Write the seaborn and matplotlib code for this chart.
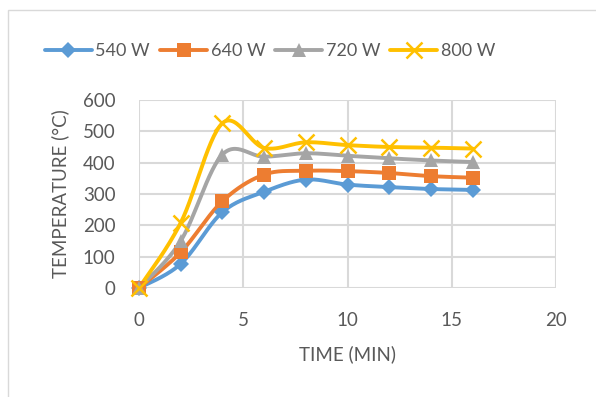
import numpy as np
import pandas as pd
import matplotlib
matplotlib.use("Agg")
import matplotlib.pyplot as plt
import seaborn as sns
from matplotlib.lines import Line2D
from matplotlib.patches import Rectangle

# Heating curves at different microwave powers
time_min = [0, 2, 4, 6, 8, 10, 12, 14, 16]
temp_540 = [0, 77, 242, 307, 346, 330, 322, 316, 313]
temp_640 = [0, 114, 277, 362, 374, 373, 367, 357, 352]
temp_720 = [0, 150, 426, 419, 430, 422, 414, 407, 402]
temp_800 = [0, 208, 526, 447, 465, 456, 450, 448, 445]
series_labels = ["540 W", "640 W", "720 W", "800 W"]

colors = ["#5B9BD5", "#ED7D31", "#A5A5A5", "#FFC000"]
markers = ["D", "s", "^", "x"]
msizes = [8.5, 10, 10.5, 11]


def smooth_curve(x, y, n=30, tension=1 / 6):
    """Cardinal-spline (Catmull-Rom style) curve through the points."""
    x = np.asarray(x, float)
    y = np.asarray(y, float)
    px = np.concatenate([[x[0]], x, [x[-1]]])
    py = np.concatenate([[y[0]], y, [y[-1]]])
    xs, ys = [], []
    t = np.linspace(0, 1, n)
    for i in range(1, len(px) - 2):
        p0 = np.array([px[i], py[i]])
        p3 = np.array([px[i + 1], py[i + 1]])
        c1 = p0 + tension * (np.array([px[i + 1], py[i + 1]]) - np.array([px[i - 1], py[i - 1]]))
        c2 = p3 - tension * (np.array([px[i + 2], py[i + 2]]) - np.array([px[i], py[i]]))
        b = ((1 - t) ** 3)[:, None] * p0 + (3 * (1 - t) ** 2 * t)[:, None] * c1 \
            + (3 * (1 - t) * t ** 2)[:, None] * c2 + (t ** 3)[:, None] * p3
        xs.append(b[:, 0])
        ys.append(b[:, 1])
    return np.concatenate(xs), np.concatenate(ys)


sns.set_theme(style="white")
plt.rcParams["font.family"] = ["Lato", "DejaVu Sans"]
text_color = "#595959"
fs = 13.5

fig = plt.figure(figsize=(5.96, 3.97), dpi=100)
ax = fig.add_axes([139 / 596, 1 - 288 / 397, (556 - 139) / 596, (288 - 100) / 397])

# chart frame
fig.patches.append(Rectangle((8 / 596, -0.1), 1.2, 1 - 10 / 397 + 0.1,
                             transform=fig.transFigure, fill=False,
                             edgecolor="#D9D9D9", linewidth=1.0))

all_series = [temp_540, temp_640, temp_720, temp_800]
for vals, lab, col, mk, ms in zip(all_series, series_labels, colors, markers, msizes):
    sx, sy = smooth_curve(time_min, vals)
    curve = pd.DataFrame({"t": sx, "v": sy})
    sns.lineplot(data=curve, x="t", y="v", ax=ax, color=col, linewidth=2.8,
                 sort=False, estimator=None, zorder=3)
    pts = pd.DataFrame({"t": time_min, "v": vals})
    if mk == "x":
        ax.plot(pts["t"], pts["v"], linestyle="none", marker="x", markersize=ms,
                markeredgewidth=1.8, color=col, zorder=4, clip_on=False)
    else:
        ax.plot(pts["t"], pts["v"], linestyle="none", marker=mk, markersize=ms,
                markeredgewidth=0, color=col, zorder=4, clip_on=False)

ax.set_xlim(0, 20)
ax.set_ylim(0, 600)
ax.set_xticks([0, 5, 10, 15, 20])
ax.set_yticks(range(0, 601, 100))
ax.grid(True, color="#D9D9D9", linewidth=1.5)
ax.set_axisbelow(True)
for s in ax.spines.values():
    s.set_visible(False)
ax.tick_params(axis="both", length=0, labelsize=fs, labelcolor=text_color)
ax.tick_params(axis="x", pad=17)
ax.tick_params(axis="y", pad=17)
ax.set_xlabel("TIME (MIN)", fontsize=fs, color=text_color, labelpad=12)
ax.set_ylabel("TEMPERATURE (°C)", fontsize=fs, color=text_color, labelpad=10)

handles = []
for lab, col, mk, ms in zip(series_labels, colors, markers, msizes):
    if mk == "x":
        handles.append(Line2D([], [], color=col, linewidth=2.8, marker="x",
                              markersize=ms, markeredgewidth=1.8, label=lab))
    else:
        handles.append(Line2D([], [], color=col, linewidth=2.8, marker=mk,
                              markersize=ms, markeredgewidth=0, label=lab))
fig.legend(handles=handles, loc="center", bbox_to_anchor=(270 / 596, 1 - 51 / 397),
           ncol=4, frameon=False, fontsize=13, handlelength=2.6, handletextpad=0.2,
           columnspacing=0.55, labelcolor=text_color)

fig.savefig("out.png", dpi=100)
